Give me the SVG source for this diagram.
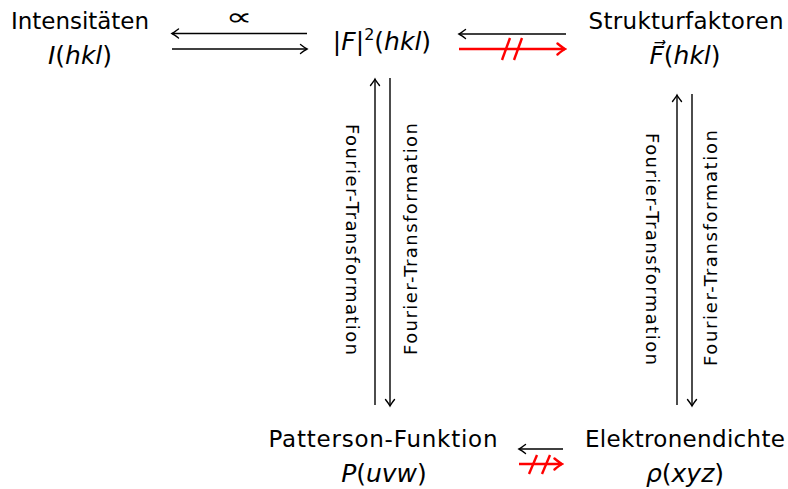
<svg xmlns="http://www.w3.org/2000/svg" width="788" height="489" viewBox="0 0 788 489">
<defs>
<style>
.t{font-family:"DejaVu Sans","Liberation Sans",sans-serif;font-size:23px;fill:#000;text-anchor:middle}
.mm{font-size:25px}
.m{font-style:italic}
.lab{font-family:"DejaVu Sans","Liberation Sans",sans-serif;font-size:18px;fill:#000;text-anchor:middle}
.ln{stroke:#000;stroke-width:1.4;fill:none}
.rd{stroke:#ff0000;stroke-width:2.4;fill:none}
</style>
<marker id="ah" viewBox="-8 -6 10 12" markerWidth="10" markerHeight="12" refX="0" refY="0" orient="auto" markerUnits="userSpaceOnUse">
<path d="M-6.5,-4.5 Q-2,-1 0,0 Q-2,1 -6.5,4.5" stroke="#000" stroke-width="1.4" fill="none" stroke-linecap="round"/>
</marker>
<marker id="ahr" viewBox="-10 -7 12 14" markerWidth="12" markerHeight="14" refX="0" refY="0" orient="auto" markerUnits="userSpaceOnUse">
<path d="M-7.5,-5.5 Q-2,-1 0,0 Q-2,1 -7.5,5.5" stroke="#ff0000" stroke-width="2.4" fill="none" stroke-linecap="round"/>
</marker>
</defs>
<rect width="788" height="489" fill="#fff"/>

<g id="n-intensitaeten">
<text class="t" x="80" y="29" textLength="138" lengthAdjust="spacing">Intensitäten</text>
<text class="t mm" x="80" y="64"><tspan class="m">I</tspan>(<tspan class="m">hkl</tspan>)</text>
</g>
<g id="n-betrag">
<text class="t mm" x="382" y="50">|<tspan class="m">F</tspan>|<tspan font-size="16" dy="-10">2</tspan><tspan dy="10">(</tspan><tspan class="m">hkl</tspan>)</text>
</g>
<g id="n-strukturfaktoren">
<text class="t" x="686" y="29" textLength="195" lengthAdjust="spacing">Strukturfaktoren</text>
<text class="t mm" x="685" y="64"><tspan class="m">F⃗</tspan>(<tspan class="m">hkl</tspan>)</text>
</g>
<g id="n-patterson">
<text class="t" x="383" y="447" textLength="229" lengthAdjust="spacing">Patterson-Funktion</text>
<text class="t mm" x="384" y="482"><tspan class="m">P</tspan>(<tspan class="m">uvw</tspan>)</text>
</g>
<g id="n-elektronendichte">
<text class="t" x="685" y="447" textLength="200" lengthAdjust="spacing">Elektronendichte</text>
<text class="t mm" x="685" y="482"><tspan class="m">ρ</tspan>(<tspan class="m">xyz</tspan>)</text>
</g>

<g id="connectors">
<!-- top left -->
<line class="ln" x1="307" y1="33.5" x2="172" y2="33.5" marker-end="url(#ah)"/>
<line class="ln" x1="172" y1="49" x2="307" y2="49" marker-end="url(#ah)"/>
<text transform="translate(239,24.5) scale(1.55,1)" style="font-family:'DejaVu Sans',sans-serif;font-size:24px;text-anchor:middle">∝</text>
<!-- top right -->
<line class="ln" x1="566" y1="34" x2="459" y2="34" marker-end="url(#ah)"/>
<line class="rd" x1="459" y1="49" x2="565" y2="49" marker-end="url(#ahr)"/>
<line class="rd" x1="502" y1="60" x2="510" y2="38"/>
<line class="rd" x1="514" y1="60" x2="522" y2="38"/>
<!-- bottom -->
<line class="ln" x1="563" y1="449" x2="519" y2="449" marker-end="url(#ah)"/>
<line class="rd" x1="519" y1="464" x2="562" y2="464" marker-end="url(#ahr)"/>
<line class="rd" x1="529" y1="474" x2="537" y2="455"/>
<line class="rd" x1="542" y1="474" x2="550" y2="455"/>
<!-- middle verticals -->
<line class="ln" x1="375" y1="405" x2="375" y2="79" marker-end="url(#ah)"/>
<line class="ln" x1="390" y1="78" x2="390" y2="406" marker-end="url(#ah)"/>
<text class="lab" transform="translate(346,239.5) rotate(90)" textLength="231" lengthAdjust="spacing">Fourier-Transformation</text>
<text class="lab" transform="translate(417,239) rotate(-90)" textLength="232" lengthAdjust="spacing">Fourier-Transformation</text>
<!-- right verticals -->
<line class="ln" x1="677" y1="405" x2="677" y2="95" marker-end="url(#ah)"/>
<line class="ln" x1="692" y1="94" x2="692" y2="406" marker-end="url(#ah)"/>
<text class="lab" transform="translate(646,249) rotate(90)" textLength="232" lengthAdjust="spacing">Fourier-Transformation</text>
<text class="lab" transform="translate(717,248) rotate(-90)" textLength="236" lengthAdjust="spacing">Fourier-Transformation</text>
</g>
</svg>
